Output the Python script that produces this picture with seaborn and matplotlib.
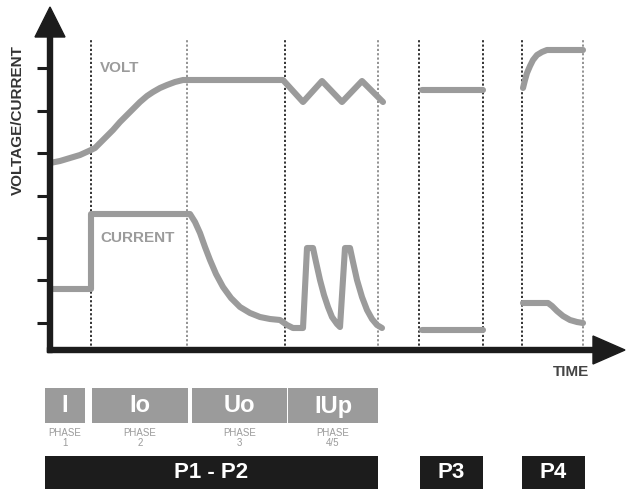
import numpy as np
import pandas as pd
import seaborn as sns
import matplotlib.pyplot as plt

# time axis in arbitrary units, levels in arbitrary units (0 = time axis)
volt_t = [0, 1.0, 2.0, 3.0, 4.1, 4.5, 5.0, 5.6, 6.3, 7.0, 7.7, 8.4, 9.0,
          9.7, 10.3, 11.0, 11.7, 12.5, 13.3, 23.3,
          25.3, 27.2, 29.2, 31.2, 33.3]
volt_v = [18.7, 18.9, 19.2, 19.5, 20.0, 20.2, 20.7, 21.3, 22.0, 22.8, 23.5,
          24.2, 24.8, 25.4, 25.8, 26.2, 26.5, 26.8, 27.0, 27.0,
          24.8, 26.9, 24.8, 26.9, 24.8]

curr_t = [0, 4.1, 4.1, 14.0, 14.5, 15.0, 15.5, 16.0, 16.6, 17.3, 18.1, 19.0,
          20.0, 21.0, 22.0, 23.0, 23.7, 24.3, 25.3, 25.7, 26.3,
          26.6, 27.0, 27.4, 27.8, 28.2, 28.7, 29.0, 29.5, 30.0,
          30.3, 30.7, 31.2, 31.7, 32.2, 32.7, 33.2]
curr_v = [6.1, 6.1, 13.6, 13.6, 12.8, 11.7, 10.3, 9.0, 7.6, 6.3, 5.2, 4.3,
          3.7, 3.3, 3.1, 3.0, 2.5, 2.2, 2.2, 10.2, 10.2,
          8.8, 7.0, 5.5, 4.3, 3.3, 2.6, 2.3, 10.2, 10.2,
          8.8, 7.0, 5.3, 4.0, 3.1, 2.5, 2.2]

p3_t = [37.2, 43.3]
p3_volt = [26.0, 26.0]
p3_curr = [2.0, 2.0]

p4_volt_t = [47.3, 47.5, 47.7, 48.0, 48.3, 48.7, 49.2, 49.7, 53.3]
p4_volt_v = [26.2, 27.0, 27.7, 28.4, 29.0, 29.5, 29.8, 30.0, 30.0]
p4_curr_t = [47.3, 49.8, 50.2, 50.7, 51.3, 52.0, 52.7, 53.3]
p4_curr_v = [4.7, 4.7, 4.4, 3.9, 3.4, 3.0, 2.8, 2.7]

phase_bounds = [4.1, 13.7, 23.5, 32.8, 36.9, 43.3, 47.2, 53.3]
phase_dark = [True, False, True, False, True, True, True, False]
y_ticks = [2.7, 7.0, 11.2, 15.4, 19.7, 23.9, 28.2]

phase_names = ["I", "Io", "Uo", "IUp"]
phase_nums = ["1", "2", "3", "4/5"]
phase_left = [-0.5, 4.2, 14.2, 23.8]
phase_right = [3.5, 13.8, 23.7, 32.8]

prog_names = ["P1 - P2", "P3", "P4"]
prog_left = [-0.5, 37.0, 47.2]
prog_right = [32.8, 43.3, 53.5]

GRAY = "#9b9b9b"
DARK = "#1c1c1c"

sns.set_style("white")
plt.rcParams['font.family'] = ['Liberation Sans Narrow', 'Liberation Sans', 'DejaVu Sans']

fig = plt.figure(figsize=(6.27, 4.92), dpi=100)
ax = fig.add_axes([0, 0, 1, 1])

# phase separators
for t, dark in zip(phase_bounds, phase_dark):
    ax.vlines(t, 0, 31.2, colors="#222222" if dark else "#8a8a8a",
              linestyles=(0, (1.2, 1.2)), linewidth=1.3, zorder=1)

line_kw = dict(sort=False, estimator=None, color=GRAY, linewidth=4.4, ax=ax,
               zorder=3, solid_joinstyle="round")
sns.lineplot(x=volt_t, y=volt_v, **line_kw)
sns.lineplot(x=curr_t, y=curr_v, **line_kw)
sns.lineplot(x=p3_t, y=p3_volt, **line_kw)
sns.lineplot(x=p3_t, y=p3_curr, **line_kw)
sns.lineplot(x=p4_volt_t, y=p4_volt_v, **line_kw)
sns.lineplot(x=p4_curr_t, y=p4_curr_v, **line_kw)

ax.set_xlim(-5.0, 57.7)
ax.set_ylim(-14.2, 35.0)
ax.axis('off')

# axes with arrows
ax.arrow(0, -0.25, 0, 34.55, width=0.5, head_width=3.0, head_length=3.0,
         length_includes_head=True, color=DARK, zorder=4)
ax.arrow(-0.25, 0, 57.75, 0, width=0.5, head_width=2.8, head_length=3.2,
         length_includes_head=True, color=DARK, zorder=4)
ax.hlines(y_ticks, -1.3, 0, colors=DARK, linewidth=2.2, zorder=4)

ax.text(-3.2, 23.0, "VOLTAGE/CURRENT", rotation=90, ha="center", va="center",
        fontsize=11, fontweight="bold", color="#333333")
ax.text(5.0, 28.2, "VOLT", ha="left", va="center", fontsize=11,
        fontweight="bold", color=GRAY)
ax.text(5.0, 11.2, "CURRENT", ha="left", va="center", fontsize=11,
        fontweight="bold", color=GRAY)
ax.text(50.3, -2.2, "TIME", ha="left", va="center", fontsize=11,
        fontweight="bold", color="#444444")

# phase boxes
for name, num, l, r in zip(phase_names, phase_nums, phase_left, phase_right):
    ax.bar(l, -3.5, width=r - l, bottom=-3.8, align="edge", color=GRAY,
           edgecolor="none")
    ax.text((l + r) / 2, -5.6, name, ha="center", va="center", fontsize=17,
            fontweight="bold", color="white", family=['Liberation Sans', 'DejaVu Sans'])
    ax.text((l + r) / 2, -8.8, "PHASE\n" + num, ha="center", va="center",
            fontsize=7, color=GRAY, linespacing=0.95)

for name, l, r in zip(prog_names, prog_left, prog_right):
    ax.bar(l, -3.3, width=r - l, bottom=-10.6, align="edge", color=DARK,
           edgecolor="none")
    ax.text((l + r) / 2, -12.25, name, ha="center", va="center", fontsize=16,
            fontweight="bold", color="white", family=['Liberation Sans', 'DejaVu Sans'])

fig.savefig("out.png", dpi=100)
